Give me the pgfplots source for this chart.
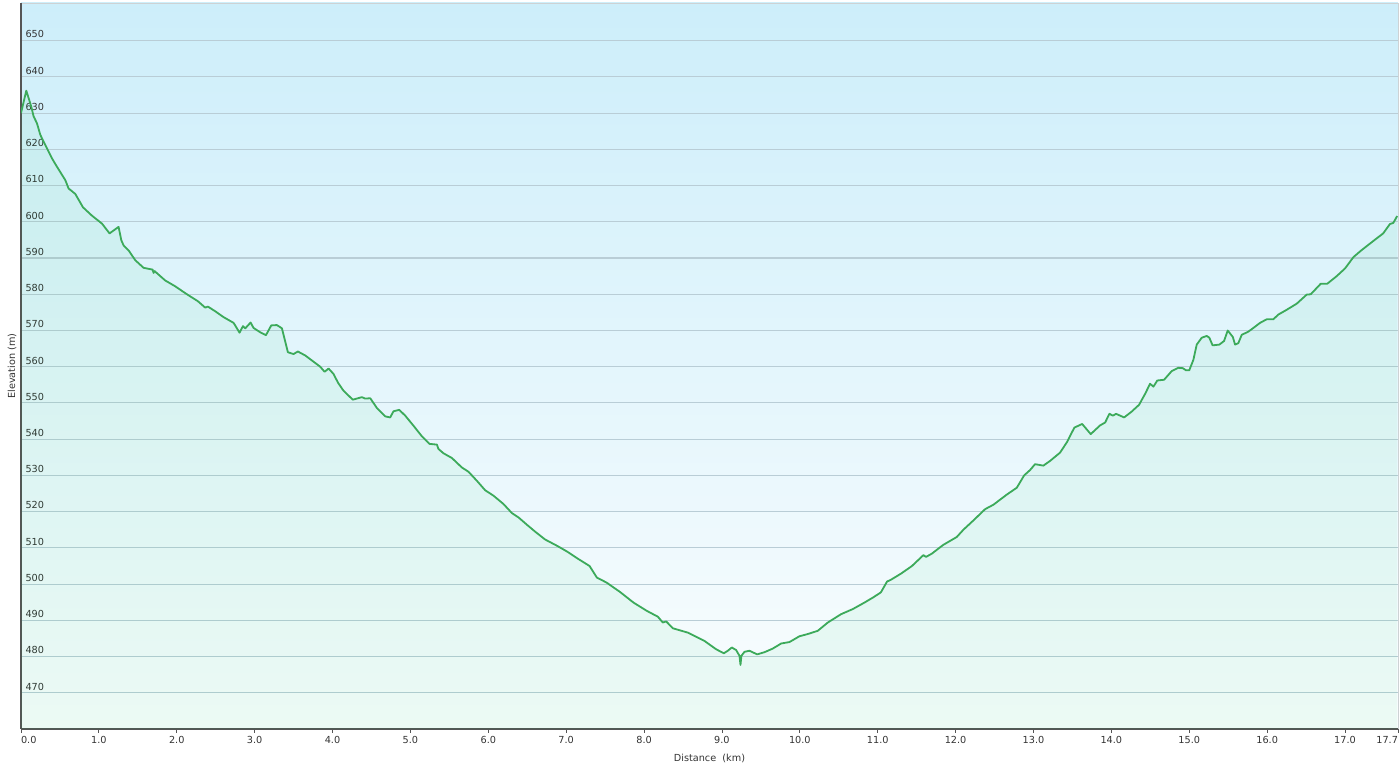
\documentclass[border=0pt]{standalone}
\usepackage{pgfplots}
\pgfplotsset{compat=1.18}
\usepackage{pgfplotstable}
\usepackage{fontspec}
\setmainfont{DejaVu Sans}
\definecolor{bgtop}{RGB}{205,238,250}
\definecolor{bgbot}{RGB}{250,253,254}
\definecolor{gridc}{RGB}{185,205,214}
\definecolor{linec}{RGB}{60,170,90}
\definecolor{fillc}{RGB}{0,200,80}
\definecolor{axc}{RGB}{85,85,85}
\definecolor{txtc}{RGB}{51,51,51}
\definecolor{borderc}{RGB}{205,210,212}

\pgfplotstableread{
km elev
0 630
0.068 636.2
0.132 631.8
0.162 629.1
0.205 627.2
0.248 624
0.312 621.2
0.398 617.5
0.462 615.2
0.569 611.5
0.611 609.2
0.697 607.7
0.796 604
0.911 601.7
1.04 599.5
1.137 596.8
1.253 598.6
1.288 594.9
1.317 593.5
1.382 592.1
1.467 589.4
1.574 587.3
1.69 586.8
1.702 585.9
1.715 586.4
1.852 583.8
1.98 582.2
2.13 580
2.27 578.1
2.366 576.3
2.40 576.6
2.494 575.3
2.60 573.7
2.73 572.1
2.806 569.4
2.85 571.2
2.88 570.6
2.948 572.2
2.986 570.7
3.072 569.5
3.145 568.7
3.213 571.4
3.286 571.5
3.35 570.6
3.427 564
3.499 563.5
3.555 564.2
3.65 563.1
3.756 561.4
3.842 560
3.898 558.6
3.949 559.5
4.013 558
4.07 555.6
4.14 553.4
4.26 550.9
4.377 551.6
4.42 551.2
4.484 551.3
4.57 548.6
4.676 546.3
4.74 546
4.783 547.7
4.856 548.1
4.933 546.5
5.04 543.7
5.147 540.8
5.245 538.7
5.34 538.5
5.36 537.3
5.425 536.1
5.533 534.8
5.66 532.2
5.746 531
5.854 528.5
5.96 525.9
6.067 524.4
6.195 522.1
6.303 519.6
6.388 518.4
6.495 516.4
6.6 514.5
6.73 512.3
6.88 510.6
7.01 509
7.158 506.9
7.30 505
7.394 501.8
7.52 500.4
7.693 497.8
7.864 494.9
8.036 492.6
8.177 491
8.24 489.4
8.284 489.7
8.37 487.8
8.562 486.6
8.776 484.3
8.926 482
9.024 480.9
9.075 481.6
9.127 482.5
9.182 481.8
9.225 480.2
9.238 477.7
9.25 480.2
9.289 481.3
9.353 481.6
9.452 480.6
9.546 481.2
9.653 482.2
9.76 483.6
9.867 484
9.995 485.6
10.10 486.2
10.23 487.1
10.36 489.4
10.53 491.7
10.68 493.1
10.83 494.9
10.94 496.3
11.04 497.7
11.12 500.7
11.17 501.2
11.30 502.9
11.44 505
11.587 508
11.62 507.5
11.695 508.4
11.84 510.8
12.015 513
12.10 515
12.23 517.6
12.38 520.7
12.485 521.9
12.657 524.7
12.786 526.6
12.88 530
12.957 531.5
13.02 533.1
13.127 532.7
13.213 534
13.342 536.3
13.43 539.2
13.525 543.2
13.625 544.2
13.735 541.4
13.855 543.8
13.92 544.6
13.975 547
14.02 546.5
14.06 547
14.164 546
14.26 547.6
14.356 549.5
14.433 552.5
14.497 555.3
14.54 554.5
14.59 556.2
14.677 556.4
14.775 558.8
14.86 559.7
14.917 559.6
14.96 559
15.0 559
15.053 561.9
15.096 566.1
15.16 568
15.225 568.5
15.258 568
15.3 565.9
15.386 566.1
15.447 567.1
15.494 570
15.56 568.2
15.588 566.1
15.63 566.5
15.674 568.8
15.76 569.7
15.823 570.7
15.909 572.1
15.995 573.1
16.08 573.1
16.144 574.4
16.25 575.7
16.38 577.4
16.508 579.9
16.56 580
16.688 582.9
16.772 582.9
16.893 585
16.999 587.1
17.11 590.3
17.214 592.2
17.363 594.7
17.49 596.8
17.577 599.4
17.62 599.7
17.67 601.6
}\elevdata

\begin{document}
\begin{tikzpicture}
\path[use as bounding box] (-21pt,-36pt) rectangle (1379pt,729pt);
\begin{axis}[
  at={(0,0)}, anchor=south west,
  scale only axis, width=1377pt, height=726pt,
  xmin=0, xmax=17.68, ymin=460, ymax=660.4,
  axis lines=left,
  axis line style={draw=axc, line width=1.1pt, -},
  axis background/.style={shade, top color=bgtop, bottom color=bgbot, draw=borderc, line width=0.8pt},
  font=\fontsize{9.7}{11}\selectfont,
  /pgf/number format/assume math mode=true,
  ytick={470,480,...,650},
  ytick style={draw=none},
  ymajorgrids,
  grid style={draw=gridc, line width=1.1pt},
  yticklabel style={anchor=south west, xshift=3pt, yshift=-1pt, text=txtc},
  xtick={0,1,2,3,4,5,6,7,8,9,10,11,12,13,14,15,16,17,17.68},
  xticklabels={\rlap{0.0},1.0,2.0,3.0,4.0,5.0,6.0,7.0,8.0,9.0,10.0,11.0,12.0,13.0,14.0,15.0,16.0,17.0,\llap{17.7}},
  xtick align=outside,
  major tick length=4pt,
  xtick style={draw=axc, line width=0.8pt},
  xticklabel style={text=txtc},
  xlabel={Distance\ \ (km)},
  ylabel={Elevation (m)},
  xlabel style={at={([yshift=-29.5pt]axis description cs:0.5,0)}, anchor=center, text=txtc, font=\fontsize{9.7}{11}\selectfont},
  ylabel style={at={([xshift=-9pt]axis description cs:0,0.5)}, anchor=center, text=txtc, font=\fontsize{9.7}{11}\selectfont},
]
\addplot[draw=none, fill=fillc, fill opacity=0.055] table[x=km, y=elev] {\elevdata} \closedcycle;
\addplot[draw=linec, line width=1.8pt, line join=round] table[x=km, y=elev] {\elevdata};
\end{axis}
\end{tikzpicture}
\end{document}
